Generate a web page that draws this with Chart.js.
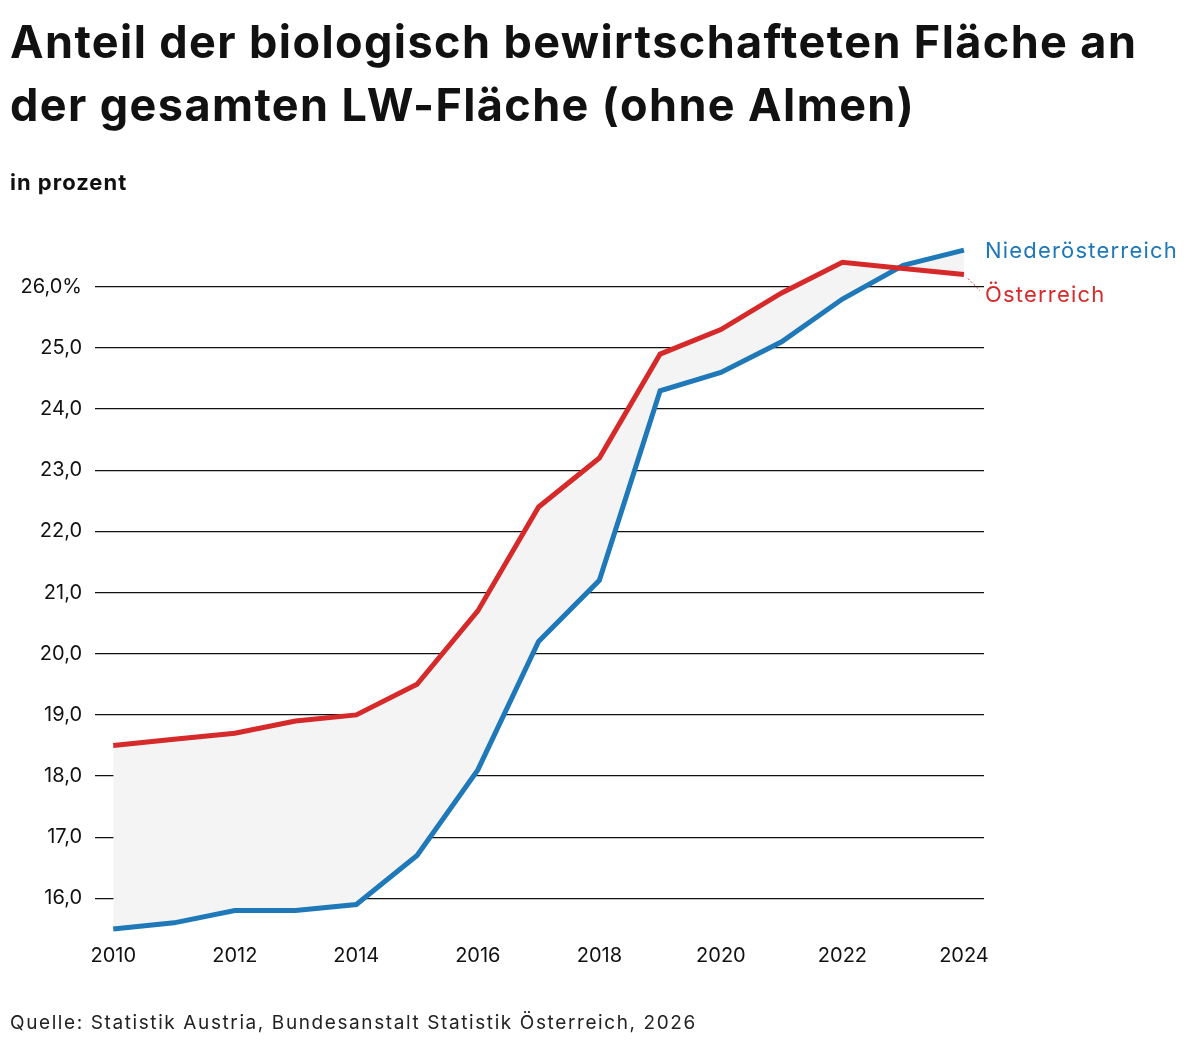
<!DOCTYPE html>
<html><head><meta charset="utf-8">
<script src="https://cdn.jsdelivr.net/npm/chart.js@4"></script>
<style>
body{margin:0;width:1200px;height:1052px;position:relative;background:#fff;font-family:Inter,sans-serif;}
#t{position:absolute;left:10px;top:10px;font-size:45px;font-weight:700;line-height:63px;color:#111;letter-spacing:1.4px}
#s{position:absolute;left:10px;top:169px;font-size:22px;font-weight:700;color:#111;letter-spacing:1px}
#src{position:absolute;left:10px;top:1011px;font-size:19px;color:#222;letter-spacing:1.6px}
#c{position:absolute;left:0;top:0}
</style></head><body>
<canvas id="c" width="1200" height="1052"></canvas>
<div id="t">Anteil der biologisch bewirtschafteten Fläche an<br>der gesamten LW-Fläche (ohne Almen)</div>
<div id="s">in prozent</div>
<div id="src">Quelle: Statistik Austria, Bundesanstalt Statistik Österreich, 2026</div>
<script>
const years=[2010,2011,2012,2013,2014,2015,2016,2017,2018,2019,2020,2021,2022,2023,2024];
const oesterreich=[18.5,18.6,18.7,18.9,19.0,19.5,20.7,22.4,23.2,24.9,25.3,25.9,26.4,26.3,26.2];
const niederoesterreich=[15.5,15.6,15.8,15.8,15.9,16.7,18.1,20.2,21.2,24.3,24.6,25.1,25.8,26.35,26.6];
const seriesNames=['Österreich','Niederösterreich'];
const RED='#d62a2a',BLUE='#1f78b8';
const endLabels={id:'endLabels',afterDatasetsDraw(ch){
  const c=ch.ctx,x=ch.scales.x,y=ch.scales.y;
  const n=years.length-1;
  c.save();c.font='22px Inter, sans-serif';c.textBaseline='middle';c.letterSpacing='1.2px';
  const xb=x.getPixelForValue(years[n]);
  c.fillStyle=BLUE;c.fillText(seriesNames[1],xb+21,y.getPixelForValue(niederoesterreich[n])+1);
  const yr=y.getPixelForValue(oesterreich[n]);
  c.fillStyle=RED;c.fillText(seriesNames[0],xb+21,yr+21);
  c.strokeStyle=RED;c.lineWidth=1;c.setLineDash([2,2]);
  c.beginPath();c.moveTo(xb+4,yr+4);c.lineTo(xb+16,yr+16);c.stroke();
  c.restore();
}};
new Chart(document.getElementById('c'),{type:'line',
 data:{datasets:[
  {label:seriesNames[0],data:years.map((v,i)=>({x:v,y:oesterreich[i]})),borderColor:RED,borderWidth:5,pointRadius:0,tension:0,fill:false},
  {label:seriesNames[1],data:years.map((v,i)=>({x:v,y:niederoesterreich[i]})),borderColor:BLUE,borderWidth:5,pointRadius:0,tension:0,fill:{target:0},backgroundColor:'#f4f4f4'}
 ]},
 options:{responsive:false,animation:false,
  layout:{padding:{left:0,top:244,right:216,bottom:60}},
  plugins:{legend:{display:false},tooltip:{enabled:false}},
  scales:{
   x:{type:'linear',min:2009.7,max:2024.33,grid:{display:false},border:{display:false},
      afterBuildTicks:s=>{s.ticks=[2010,2012,2014,2016,2018,2020,2022,2024].map(v=>({value:v}));},
      afterFit:s=>{s.height=60;},
      ticks:{color:'#111',font:{size:20,family:'Inter'},padding:4,maxRotation:0,callback:v=>String(v)}},
   y:{min:15.45,max:26.7,grid:{color:'#111',lineWidth:1.3,drawTicks:false},border:{display:false},
      afterBuildTicks:s=>{s.ticks=[16,17,18,19,20,21,22,23,24,25,26].map(v=>({value:v}));},
      afterFit:s=>{s.width=95;},
      ticks:{color:'#111',font:{size:20,family:'Inter'},padding:13,
        callback:v=>v.toFixed(1).replace('.',',')+(v===26?'%':'')}}
  }},
 plugins:[endLabels]});
</script></body></html>
